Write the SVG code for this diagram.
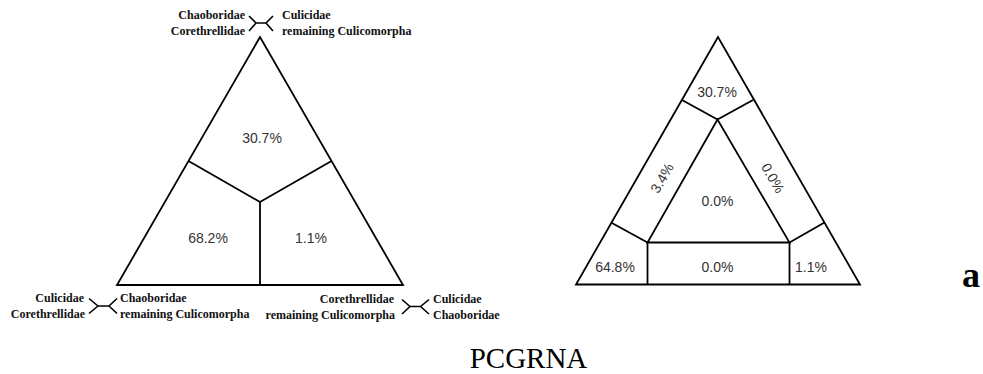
<svg xmlns="http://www.w3.org/2000/svg" width="983" height="374" viewBox="0 0 983 374">
<style>
.ln{fill:none;stroke:#000;stroke-width:1.8;stroke-linejoin:miter}
.ic{fill:none;stroke:#000;stroke-width:1.6}
.pc{font-family:"Liberation Sans",Arial,sans-serif;font-size:14px;fill:#333;text-anchor:middle}
.tx{font-family:"Liberation Serif","Times New Roman",serif;font-size:12px;font-weight:bold;fill:#111}
.r{text-anchor:end}
</style>
<rect width="983" height="374" fill="#fff"/>
<g id="left-triangle">
<polygon class="ln" points="260,37 117,285 403,285"/>
<polyline class="ln" points="188.5,161 260,202 331.5,161"/>
<line class="ln" x1="260" y1="202" x2="260" y2="285"/>
<text class="pc" x="262" y="143">30.7%</text>
<text class="pc" x="208" y="243">68.2%</text>
<text class="pc" x="311" y="243">1.1%</text>
</g>
<g id="label-top">
<text class="tx r" x="245" y="19">Chaoboridae</text>
<text class="tx r" x="245" y="35">Corethrellidae</text>
<text class="tx" x="282" y="19">Culicidae</text>
<text class="tx" x="282" y="35">remaining Culicomorpha</text>
<path class="ic" d="M249,16 L256,23 L266,23 L273,16 M249,31 L256,23 M266,23 L273,31"/>
</g>
<g id="label-bottom-left">
<text class="tx r" x="84" y="302">Culicidae</text>
<text class="tx r" x="85" y="318">Corethrellidae</text>
<text class="tx" x="120" y="302">Chaoboridae</text>
<text class="tx" x="120" y="318">remaining Culicomorpha</text>
<path class="ic" d="M89,298.5 L98,306 L109,306 L117,298.5 M89,313.5 L98,306 M109,306 L117,313.5"/>
</g>
<g id="label-bottom-right">
<text class="tx r" x="394" y="303">Corethrellidae</text>
<text class="tx r" x="395" y="319">remaining Culicomorpha</text>
<text class="tx" x="433" y="303">Culicidae</text>
<text class="tx" x="433" y="319">Chaoboridae</text>
<path class="ic" d="M402,299.5 L410,306.5 L420.5,306.5 L429,299.5 M402,314 L410,306.5 M420.5,306.5 L429,314"/>
</g>
<g id="right-triangle">
<polygon class="ln" points="718,37 576,284.5 860,284.5"/>
<polygon class="ln" points="717.5,119.5 647.5,242.5 789.5,242.5"/>
<polyline class="ln" points="682,100 717.5,119.5 753,100"/>
<line class="ln" x1="611" y1="222.5" x2="647.5" y2="242.5"/>
<line class="ln" x1="824.5" y1="222.5" x2="789.5" y2="242.5"/>
<line class="ln" x1="647.5" y1="242.5" x2="647.5" y2="284.5"/>
<line class="ln" x1="789.5" y1="242.5" x2="789.5" y2="284.5"/>
<text class="pc" x="717" y="97">30.7%</text>
<text class="pc" transform="translate(662,178) rotate(-60)" x="0" y="5">3.4%</text>
<text class="pc" transform="translate(773,178) rotate(60)" x="0" y="5">0.0%</text>
<text class="pc" x="717.5" y="206">0.0%</text>
<text class="pc" x="615" y="272">64.8%</text>
<text class="pc" x="717.5" y="272">0.0%</text>
<text class="pc" x="811" y="272">1.1%</text>
</g>
<text x="962" y="286.5" font-family="'Liberation Serif','Times New Roman',serif" font-size="36" font-weight="bold" fill="#000">a</text>
<text x="528.5" y="368" font-family="'Liberation Serif','Times New Roman',serif" font-size="29" fill="#000" text-anchor="middle">PCGRNA</text>
</svg>
